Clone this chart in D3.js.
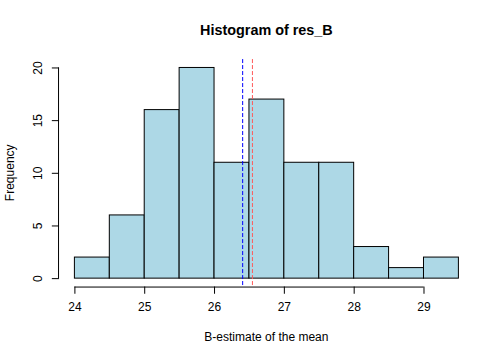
<!DOCTYPE html>
<html lang="en">
<head>
<meta charset="utf-8">
<title>Histogram of res_B</title>
<script src="https://cdnjs.cloudflare.com/ajax/libs/d3/7.8.5/d3.min.js"></script>
<style>
  body { margin: 0; background: #fff; }
  text { font-family: "Liberation Sans", Arial, sans-serif; }
</style>
</head>
<body>
<div id="viz"></div>
<script>
// bin edges and counts
const binStarts = [24, 24.5, 25, 25.5, 26, 26.5, 27, 27.5, 28, 28.5, 29];
const binWidth = 0.5;
const counts = [2, 6, 16, 20, 11, 17, 11, 11, 3, 1, 2];
const xTicks = [24, 25, 26, 27, 28, 29];
const yTicks = [0, 5, 10, 15, 20];
const meanLines = [
  { value: 26.41, color: "blue" },
  { value: 26.55, color: "#ff5a5a" }
];

const width = 504, height = 360;
// R default margins at 72 dpi (line = 14.4px)
const plotLeft = 59.04, plotRight = width - 30.24, plotTop = 59.04, plotBottom = height - 73.44;

const svg = d3.select("#viz").append("svg")
  .attr("width", width)
  .attr("height", height);

// 4% range extension like R
const xMin = 24, xMax = 29.5, yMin = 0, yMax = 20;
const xPad = (xMax - xMin) * 0.04, yPad = (yMax - yMin) * 0.04;
const x = d3.scaleLinear().domain([xMin - xPad, xMax + xPad]).range([plotLeft, plotRight]);
const y = d3.scaleLinear().domain([yMin - yPad, yMax + yPad]).range([plotBottom, plotTop]);

// bars
svg.append("g")
  .selectAll("rect")
  .data(binStarts)
  .enter()
  .append("rect")
    .attr("x", d => x(d))
    .attr("y", (d, i) => y(counts[i]))
    .attr("width", d => x(d + binWidth) - x(d))
    .attr("height", (d, i) => y(0) - y(counts[i]))
    .attr("fill", "#add8e6")
    .attr("stroke", "#000")
    .attr("stroke-width", 1);

// dashed mean lines
svg.append("g")
  .selectAll("line")
  .data(meanLines)
  .enter()
  .append("line")
    .attr("x1", d => x(d.value))
    .attr("x2", d => x(d.value))
    .attr("y1", plotTop)
    .attr("y2", plotBottom)
    .attr("stroke", d => d.color)
    .attr("stroke-width", 1)
    .attr("stroke-dasharray", "4,2");

// x axis
const xAxis = d3.axisBottom(x).tickValues(xTicks).tickSize(7.2).tickPadding(9).tickFormat(d3.format("d"));
const gx = svg.append("g")
  .attr("transform", `translate(0,${plotBottom})`)
  .call(xAxis);
gx.select(".domain").attr("d", `M${x(xTicks[0])},0.5H${x(xTicks[xTicks.length - 1])}`);

// y axis
const yAxis = d3.axisLeft(y).tickValues(yTicks).tickSize(7.2).tickPadding(6);
const gy = svg.append("g")
  .attr("transform", `translate(${plotLeft},0)`)
  .call(yAxis);
gy.select(".domain").attr("d", `M-0.5,${y(yTicks[0])}V${y(yTicks[yTicks.length - 1])}`);
gy.selectAll(".tick text")
  .attr("transform", "rotate(-90, -21, 0)")
  .attr("x", -21)
  .attr("dy", "0.35em")
  .attr("text-anchor", "middle");

svg.selectAll(".tick text").attr("font-size", 12).attr("fill", "#000")
  .attr("font-family", "Liberation Sans, Arial, sans-serif");
svg.selectAll(".domain, .tick line").attr("stroke", "#000");

// titles
svg.append("text")
  .attr("x", (plotLeft + plotRight) / 2)
  .attr("y", 35)
  .attr("text-anchor", "middle")
  .attr("font-weight", "bold")
  .attr("font-size", 14.4)
  .text("Histogram of res_B");

svg.append("text")
  .attr("x", (plotLeft + plotRight) / 2)
  .attr("y", 341)
  .attr("text-anchor", "middle")
  .attr("font-size", 12)
  .text("B-estimate of the mean");

svg.append("text")
  .attr("transform", `translate(14,${(plotTop + plotBottom) / 2}) rotate(-90)`)
  .attr("text-anchor", "middle")
  .attr("font-size", 12)
  .text("Frequency");
</script>
</body>
</html>
